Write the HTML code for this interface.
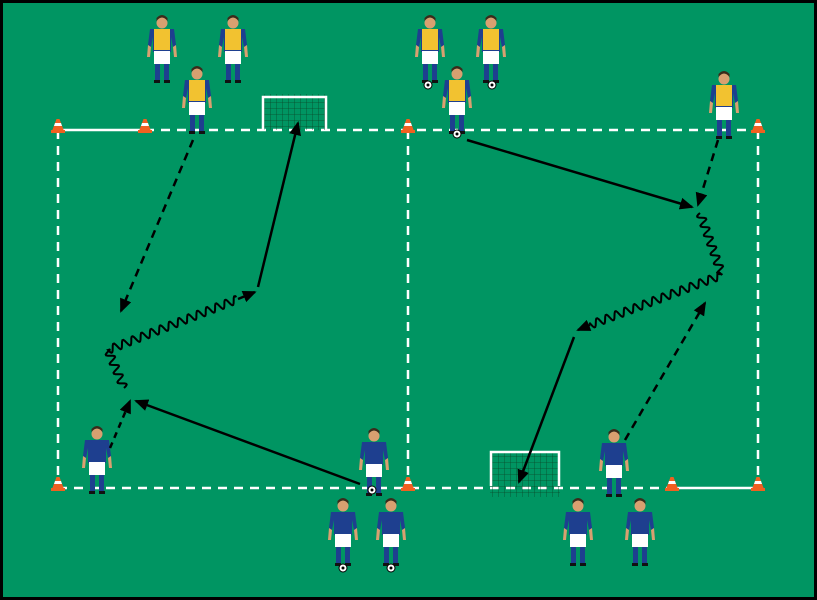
<!DOCTYPE html>
<html><head><meta charset="utf-8"><style>
html,body{margin:0;padding:0;background:#000}
svg{display:block}
</style></head><body>
<svg id="s" width="817" height="600" viewBox="0 0 817 600" xmlns="http://www.w3.org/2000/svg">
<defs>
<marker id="ah2" markerWidth="14" markerHeight="14" refX="12" refY="7" orient="auto" markerUnits="userSpaceOnUse" viewBox="0 0 14 14">
<path d="M0,1 L14,7 L0,13 z" fill="#000"/></marker>
<g id="cone"><path d="M-6,4 L6,4 L1.5,-8 L-1.5,-8 z" fill="#f06020"/><path d="M-4,-1 L4,-1 L3,-4 L-3,-4z" fill="#fff"/><rect x="-7" y="3" width="14" height="3" fill="#f06020"/></g>
<g id="py">
<circle cx="0" cy="6" r="5.5" fill="#d9a070"/><path d="M-5.5,4 Q0,-3 5.5,4 L5.5,1 Q0,-5 -5.5,1z" fill="#3a2a1a"/>
<path d="M-12,12 L12,12 L14,28 L11,30 L9,20 L9,35 L-9,35 L-9,20 L-11,30 L-14,28z" fill="#1e3f8f"/>
<rect x="-8" y="12" width="16" height="21" fill="#f2c230"/>
<path d="M-14,28 L-15,40 L-12,40 L-11,30z M14,28 L15,40 L12,40 L11,30z" fill="#d9a070"/>
<rect x="-8" y="34" width="16" height="13" fill="#fff"/>
<rect x="-7" y="47" width="5" height="16" fill="#1e3f8f"/><rect x="2" y="47" width="5" height="16" fill="#1e3f8f"/>
<rect x="-8" y="63" width="6" height="3" fill="#111"/><rect x="2" y="63" width="6" height="3" fill="#111"/>
</g>
<g id="pb">
<circle cx="0" cy="6" r="5.5" fill="#d9a070"/><path d="M-5.5,4 Q0,-3 5.5,4 L5.5,1 Q0,-5 -5.5,1z" fill="#3a2a1a"/>
<path d="M-12,12 L12,12 L14,28 L11,30 L9,20 L9,35 L-9,35 L-9,20 L-11,30 L-14,28z" fill="#1e3f8f"/>
<path d="M-14,28 L-15,40 L-12,40 L-11,30z M14,28 L15,40 L12,40 L11,30z" fill="#d9a070"/>
<rect x="-8" y="34" width="16" height="13" fill="#fff"/>
<rect x="-7" y="47" width="5" height="16" fill="#1e3f8f"/><rect x="2" y="47" width="5" height="16" fill="#1e3f8f"/>
<rect x="-8" y="63" width="6" height="3" fill="#111"/><rect x="2" y="63" width="6" height="3" fill="#111"/>
</g>
<g id="ball"><circle r="4" fill="#fff" stroke="#000" stroke-width="1"/><circle r="1.5" fill="#000"/></g>
<pattern id="net" width="6" height="6" patternUnits="userSpaceOnUse"><path d="M0,0 H6 M0,0 V6" stroke="#0a4a2a" stroke-width="0.8"/></pattern>
</defs>
<rect x="3" y="3" width="811" height="594" fill="#009562"/>
<g stroke="#fff" stroke-width="2.5" fill="none">
<line x1="58" y1="130" x2="145" y2="130"/>
<line x1="672" y1="488" x2="758" y2="488"/>
<g stroke-dasharray="9,7">
<line x1="145" y1="130" x2="758" y2="130"/>
<line x1="58" y1="488" x2="672" y2="488"/>
<line x1="58" y1="130" x2="58" y2="488"/>
<line x1="408" y1="130" x2="408" y2="488"/>
<line x1="758" y1="130" x2="758" y2="488"/>
</g></g>
<rect x="264" y="94" width="62" height="36" fill="url(#net)"/>
<path d="M263,131 V97 H326 V131" stroke="#fff" stroke-width="2.5" fill="none"/>
<rect x="490" y="452" width="70" height="45" fill="url(#net)"/>
<path d="M491,486 V452 H559 V486" stroke="#fff" stroke-width="2.5" fill="none"/>
<use href="#cone" x="58" y="127"/><use href="#cone" x="145" y="127"/><use href="#cone" x="408" y="127"/><use href="#cone" x="758" y="127"/>
<use href="#cone" x="58" y="485"/><use href="#cone" x="408" y="485"/><use href="#cone" x="672" y="485"/><use href="#cone" x="758" y="485"/>
<use href="#py" x="162" y="17"/><use href="#py" x="233" y="17"/><use href="#py" x="430" y="17"/><use href="#py" x="491" y="17"/>
<use href="#py" x="197" y="68"/><use href="#py" x="457" y="68"/><use href="#py" x="724" y="73"/>
<use href="#ball" x="428" y="85"/><use href="#ball" x="492" y="85"/><use href="#ball" x="457" y="134"/>
<use href="#pb" x="97" y="428"/><use href="#pb" x="374" y="430"/><use href="#pb" x="343" y="500"/><use href="#pb" x="391" y="500"/>
<use href="#pb" x="578" y="500"/><use href="#pb" x="640" y="500"/><use href="#pb" x="614" y="431"/>
<use href="#ball" x="343" y="568"/><use href="#ball" x="391" y="568"/><use href="#ball" x="372" y="490"/>
<g stroke="#000" stroke-width="2.5" fill="none">
<line x1="193" y1="140" x2="121" y2="311" stroke-dasharray="8,6" marker-end="url(#ah2)"/>
<line x1="718" y1="140" x2="698" y2="205" stroke-dasharray="8,6" marker-end="url(#ah2)"/>
<line x1="625" y1="440" x2="705" y2="303" stroke-dasharray="8,6" marker-end="url(#ah2)"/>
<line x1="110" y1="448" x2="130" y2="401" stroke-dasharray="6,5" marker-end="url(#ah2)"/>
<line x1="258" y1="287" x2="298" y2="123" marker-end="url(#ah2)"/>
<line x1="467" y1="140" x2="692" y2="207" marker-end="url(#ah2)"/>
<line x1="574" y1="337" x2="519" y2="482" marker-end="url(#ah2)"/>
<line x1="360" y1="484" x2="136" y2="401" marker-end="url(#ah2)"/>
<path id="w1" stroke-width="2" d=""/>
<path id="w2" stroke-width="2" d=""/>
<line x1="238" y1="299" x2="255" y2="292" marker-end="url(#ah2)"/>
<line x1="590" y1="325" x2="578" y2="330" marker-end="url(#ah2)"/>
</g>
</svg>
<script>
function wave(pts,amp,wl){var d="",first=true;
for(var i=0;i<pts.length-1;i++){var a=pts[i],b=pts[i+1],dx=b[0]-a[0],dy=b[1]-a[1],L=Math.hypot(dx,dy),nx=-dy/L,ny=dx/L;
for(var t=0;t<=L;t+=1){var s=Math.sin(t/wl*2*Math.PI)*amp;var x=a[0]+dx*t/L+nx*s,y=a[1]+dy*t/L+ny*s;d+=(first?"M":"L")+x.toFixed(1)+","+y.toFixed(1);first=false;}}
return d;}
document.getElementById("w1").setAttribute("d",wave([[124,388],[108,350],[238,299]],4,10));
document.getElementById("w2").setAttribute("d",wave([[700,213],[722,275],[590,325]],4,10));
</script>
</body></html>
